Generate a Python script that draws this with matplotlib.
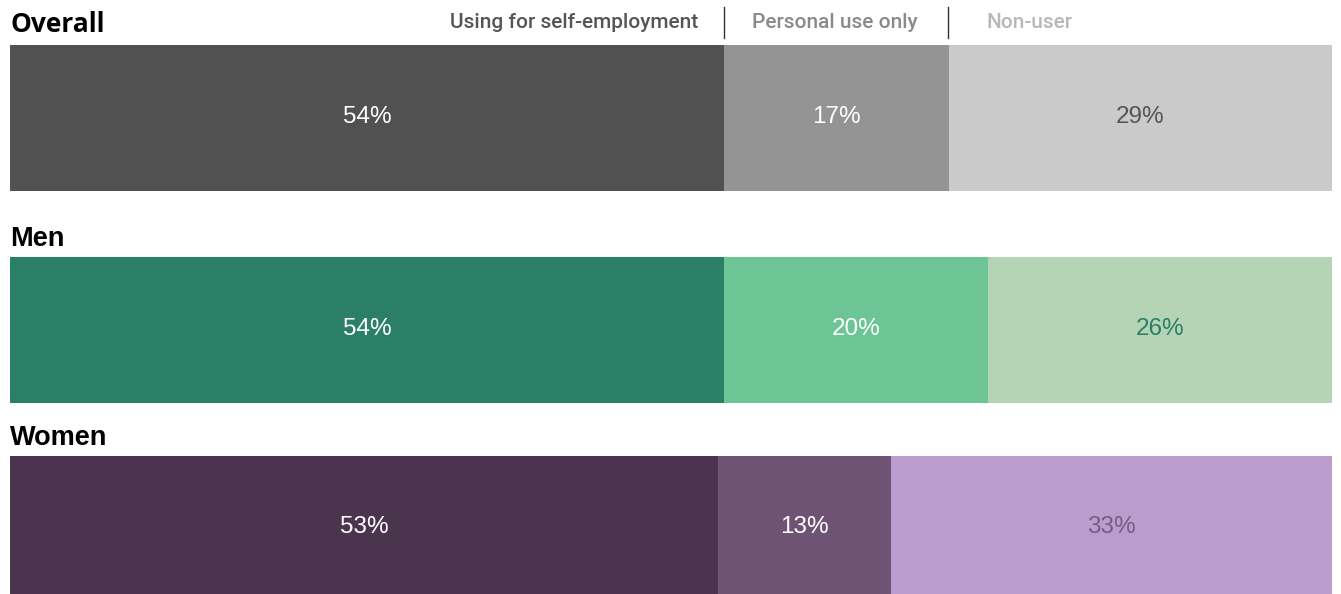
import matplotlib.pyplot as plt
from matplotlib.lines import Line2D

# share of each group by type of use
groups = ['Overall', 'Men', 'Women']
self_employment = [54, 54, 53]
personal_only = [17, 20, 13]
non_user = [29, 26, 33]
legend_labels = ['Using for self-employment', 'Personal use only', 'Non-user']

palettes = {
    'Overall': ['#515151', '#949494', '#cacaca'],
    'Men': ['#2b7f67', '#6dc595', '#b5d4b5'],
    'Women': ['#4b344e', '#6e5375', '#bc9ccc'],
}
text_colours = {
    'Overall': ['white', 'white', '#555555'],
    'Men': ['white', 'white', '#2b7f67'],
    'Women': ['white', 'white', '#7a5a86'],
}

W, H = 1341, 594
fig = plt.figure(figsize=(W / 100, H / 100), dpi=100)

# bar rows in pixel coordinates: (top, bottom), plus label centre line
rows = [(45, 191), (257, 403), (456, 594)]
label_y = [117, 329, 527]
titles_y = [25, 239, 438]
left, right = 10, 1332

for g, (top, bot), ly, ty, a, b, c in zip(groups, rows, label_y, titles_y,
                                           self_employment, personal_only, non_user):
    vals = [a, b, c]
    ax = fig.add_axes([left / W, 1 - bot / H, (right - left) / W, (bot - top) / H])
    # y in axes units where the value labels sit
    yl = 0.5 - (ly - top) / (bot - top)
    start = 0
    for v, col, tc in zip(vals, palettes[g], text_colours[g]):
        ax.barh(0, v, left=start, height=1, color=col, linewidth=0)
        ax.text(start + v / 2, yl, f'{v}%', ha='center', va='center',
                color=tc, fontsize=17.5, family=['Liberation Sans', 'DejaVu Sans'])
        start += v
    ax.set_xlim(0, sum(vals))
    ax.set_ylim(-0.5, 0.5)
    ax.axis('off')
    if g == 'Overall':
        fig.text(left / W, 1 - ty / H, g, ha='left', va='center', fontsize=19,
                 fontweight='bold', family=['Open Sans', 'DejaVu Sans'])
    else:
        fig.text(left / W, 1 - ty / H, g, ha='left', va='center', fontsize=19.5,
                 fontweight='bold', family=['Liberation Sans', 'DejaVu Sans'])

# legend across the top, separated by thin rules
leg_font = ['Roboto', 'DejaVu Sans']
fig.text(698 / W, 1 - 23 / H, legend_labels[0], ha='right', va='center',
         fontsize=15, fontweight='medium', color='#555555', family=leg_font)
fig.text(752 / W, 1 - 23 / H, legend_labels[1], ha='left', va='center',
         fontsize=15, fontweight='medium', color='#8a8a8a', family=leg_font)
fig.text(986 / W, 1 - 23 / H, legend_labels[2], ha='left', va='center',
         fontsize=15, fontweight='medium', color='#b8b8b8', family=leg_font)
for x in (724, 948):
    fig.add_artist(Line2D([x / W, x / W], [1 - 7 / H, 1 - 38 / H],
                          color='#3a2a3e', linewidth=1))

fig.savefig('out.png', dpi=100)
